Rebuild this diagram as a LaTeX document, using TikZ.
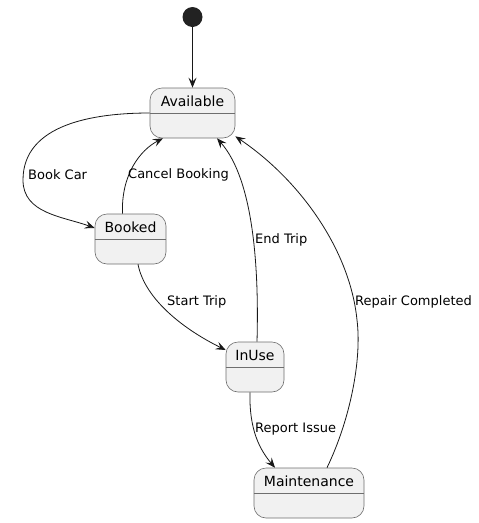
\documentclass[tikz,border=0pt]{standalone}
\usepackage{fontspec}
\setmainfont{DejaVu Sans}
\usetikzlibrary{arrows.meta}
\definecolor{stfill}{HTML}{F1F1F1}
\definecolor{stline}{HTML}{181818}
\definecolor{stedge}{HTML}{6E6E6E}
\definecolor{dot}{HTML}{222222}
\tikzset{state/.style={draw=stedge,line width=.6pt,fill=stfill,rounded corners=12pt,inner sep=0pt,text height=18pt,text depth=32pt,font=\fontsize{14}{16}\selectfont},
tr/.style={draw=stline,line width=.8pt,-{Stealth[length=10pt,width=8pt,inset=4pt]}},
lbl/.style={anchor=west,inner sep=0pt,font=\fontsize{13}{15}\selectfont}}

\begin{document}
\begin{tikzpicture}[x=1pt,y=-1pt]
\useasboundingbox (0,0) rectangle (479,523);
\node[circle,fill=dot,minimum size=20pt,inner sep=0pt] (start) at (192.5,17){};
\foreach \n/\t/\x/\y/\w in {av/Available/192.5/113/85,bk/Booked/130.5/239/71,iu/InUse/255/367/58,mt/Maintenance/309/493/110}{\node[state,minimum width=\w pt] (\n) at (\x,\y){\t};\draw[stedge,line width=.6pt] ([yshift=-26pt]\n.north west)--([yshift=-26pt]\n.north east);}
\draw[tr] (start)--(av);
\draw[tr] (av.west) to[out=180,in=90] (23,180) to[out=-90,in=160] ([yshift=11pt]bk.west);\node[lbl] (lbook) at (28,175){Book Car};
\draw[tr] ([xshift=-8pt]bk.north) .. controls (121,175) and (140,150) .. ([xshift=-29.5pt]av.south);\node[lbl] (lcancel) at (128,175){Cancel Booking};
\draw[tr] ([xshift=7.5pt]bk.south) .. controls (145,300) and (185,330) .. ([yshift=17pt]iu.west);\node[lbl] (lstart) at (167,302){Start Trip};
\draw[tr] ([xshift=2pt]iu.north) .. controls (259,270) and (254,180) .. ([xshift=24.5pt]av.south);\node[lbl] (lend) at (255,240){End Trip};
\draw[tr] ([xshift=-5pt]iu.south) .. controls (249,430) and (260,450) .. ([xshift=-34pt]mt.north);\node[lbl] (lreport) at (255,429){Report Issue};
\draw[tr] ([xshift=18pt]mt.north) .. controls (350,420) and (362,360) .. (357,320) .. controls (350,250) and (300,180) .. ([yshift=2pt]av.south east);\node[lbl] (lrepair) at (355,302){Repair Completed};
\end{tikzpicture}
\end{document}
